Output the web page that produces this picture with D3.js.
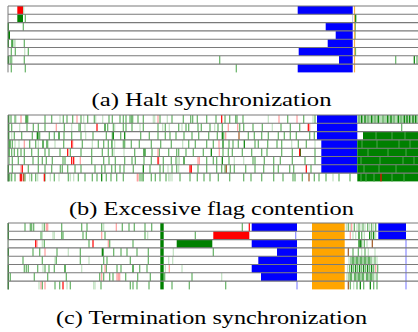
<!DOCTYPE html>
<html><head><meta charset="utf-8">
<script src="https://cdn.jsdelivr.net/npm/d3@7"></script>
<style>html,body{margin:0;padding:0;background:#fff;}svg{display:block;}</style>
</head><body><svg id="chart" width="418" height="332"></svg>
<script>
// ---- colours by mark kind ----
const kindColors = {D:"#008000", g:"#64b264", l:"#c0e1c0", r:"#ff0000", p:"#ff9c9c", b:"#a0561e",
  o:"#f7b24a", u:"#8c8cff", B:"#0000ff", G:"#008000", R:"#ff0000", O:"#ffa500", M:"#a9d6a9", v:"#c8c8f0", s:"#3f9f3f"};

// ---- captions ----
const captions = ["(a) Halt synchronization", "(b) Excessive flag contention", "(c) Termination synchronization"];
const threads = [0,1,2,3,4,5,6,7];

// ---- (a) Halt synchronization : time in ticks (0..410) ----
const haltBlocks = [
 [0,9.3,15,"R"],[0,15,16.3,"l"],[0,289.7,344.7,"B"],
 [1,9.3,15,"G"],[1,344,345,"v"],
 [2,317.7,344.7,"B"],
 [3,0,2,"G"],[3,327.7,344.7,"B"],
 [4,4,7.7,"l"],[4,319.7,344.7,"B"],
 [5,290.7,344.7,"B"],
 [6,1,4.7,"l"],[6,331,344.7,"B"],
 [7,289.7,344.7,"B"]];
const haltTicks = [
 {o:[346.5]},
 {g:[17.3],o:[346.5],D:[347.7]},
 {D:[0.3],g:[15.3,347.3],o:[346.5]},
 {D:[0.5],o:[346.5],g:[347]},
 {D:[0.3,4],g:[16.3],o:[346.5]},
 {g:[3.3,7.3,20.3,347.5],l:[16.7],o:[346.5]},
 {D:[0.3,406.3],g:[3,16.3,211.7,387.7,409],o:[346.5]},
 {g:[3.3,17.3,228.3],o:[346.5]}];

// ---- (b) Excessive flag contention ----
const contentionBlocks = [
 [0,309,349.3,"B"],[1,309,349.3,"B"],[2,309,349.3,"B"],
 [3,313.3,349.3,"B"],[4,313.3,349.3,"B"],[5,313.3,349.3,"B"],[6,313.3,349.3,"B"],
 [0,349.3,410,"M"],[2,355,410,"G"],
 [3,349.3,410,"G"],[4,349.3,410,"G"],[5,349.3,410,"G"],[6,349.3,410,"G"],[7,349.3,410,"G"]];
const contentionTicks = [
 {D:[0.7,19,353.7,357,363.7,370.3,379.7,383,390.3,396.3,399,401.7,405,407.7],
  g:[3,7,17.7,37,43.7,55.3,59,64.7,73,79.7,86.3,101,104.3,112,115.3,118,122,123.3,124.7,130,135.3,152,164,175.3,182.7,184.7,189.3,198.7,208,217,221.7,227.7,229,235,279.7,295.7,307,351,360,367,375,386,393],
  l:[8,20.3,52,75.7,87.7,94.7,145.3,146.7,159.3,260.3,305,355.5,373,388,403],
  r:[213.7], p:[13,69,150,271,289]},
 {D:[0.7,97],
  g:[3.7,19,25.3,30.3,37,56.3,71,72.3,99.7,105.3,115.3,118,124,135.3,150,157.3,170.7,178,180.7,190,193.3,202,210,214.3,231.7,235.7,245,254.3,273,282.3,291.7,393.7],
  l:[11.7,63.7,77,106.7,132,154.7,161.3,174,206.7,264.3],
  r:[89,300.3], p:[48.3,220.3,229.7,301.7]},
 {D:[0.7,29.3,51,105.3,116.7,214.3],
  g:[6.3,13.7,24.3,30.3,31.7,41.3,46.3,56,63.7,73,85,98.3,104.3,112.7,132.7,141.3,150,157.3,162,168,176,184,190.7,200.7,209.3,215.7,240.3,246.3,253.7,260.3,270.3,276.3,282.3,288.3,301.7,306.3],
  l:[3.7,77.7], p:[217.7], b:[231], s:[368,384,397]},
 {D:[1,35,215,236.3],
  g:[2.3,4.3,21.7,27.7,38.7,39.7,55.7,74.3,90.3,95.7,100.3,103.7,104,115.3,116.7,123.3,131.3,143.3,152.7,163.3,180.7,187.3,198.7,205.3,221,225,230.3,247,250.3,259.7,269,273.7,290.3,298.3],
  l:[7,11,30.3,47,84.3,106.7,174.7,283.7,307], r:[63.7], p:[16.3,64.7,211], s:[354,369,391,402]},
 {D:[1,136,203.3,292.3],
  g:[3.7,6.3,9.7,13,16.3,23.7,30.3,37,41,52,62.3,73,83.7,94.3,100.3,104.3,126.7,137.3,144,151.3,160.7,168.7,170.7,178,185.3,195.3,215,220.3,224.3,234.3,243.7,253.7,259,273.7,284.3,307],
  l:[106,116], r:[59.7,291.7], p:[150,211.3], s:[360,380,398]},
 {D:[176,214.3],
  g:[1,4.3,10.3,16.3,25,30.3,34.3,38.3,44.3,55,57,83.7,95.7,101,107.3,116.7,124,127.3,136,143.3,155.3,163.3,168,198.7,205.3,208.7,221,245,247,256.3,265.7,272.3,284.3,297,307],
  l:[170,171.3,226.3,235.7], r:[63.7,65.7,150], p:[72.3,150.7,190,191.3], s:[353,372,395,406]},
 {D:[0.3,135.3],
  g:[4.3,20.3,30.3,37,43.7,52.3,54.3,59.7,67,73,87,93.7,97,103.7,107.3,112,116,125.3,142,152,155.3,164,168.7,190,198.7,208.7,213.7,217,222.3,226.3,237.7,247,255.7,265.7,270.3,281.7,285.7,303],
  l:[160,170.7], r:[14.3,182,183.3,298.3], p:[13], b:[218.3], s:[356,371,388]},
 {D:[0.3,93.7],
  g:[1.7,3.7,7,17,23.7,27.7,37,46.3,60.3,70.3,77,84.3,89,98.3,103,108.7,115.3,132,134,135.3,143.3,147.3,152,158,172,182,189.3,196,202,210.3,221.7,235.7,243,253.7,265.7,275,285,287,294.3,306.3,311,318,331,342],
  l:[21.7,29.7,42.3,51,62.3,65.7,160.7,162,164,325], r:[12.3,13.7,36.3,373], p:[129.3,130], b:[15.7,301],
  s:[353,358,366,384,396]}];

// ---- (c) Termination synchronization ----
const termBlocks = threads.map(r => [r,152.3,155.7,"G"]).concat([
 [2,168.7,204.3,"G"],[1,205.3,241.3,"R"],
 [0,243.7,289,"B"],[2,243.7,289,"B"],[3,269,289,"B"],[4,250.3,289,"B"],[5,243.7,289,"B"],[6,253,289,"B"],
 [0,370.3,398,"B"],[1,370.3,398,"B"]]).concat(threads.map(r => [r,304,336.7,"O"]));
const termTicks = [
 {D:[0.3], g:[17,22.3,23.7,25.7,36.3,53.7,73.7,79,93.7,114.3,121,126.3,137,143.7,234.3,340.3,346.3,351,355,359.7,363.7,367.7],
  l:[34.3,95.7,338.3,342.3,349,353,357,361.7,365.7], r:[241.3], p:[38.3,39.7,108.3,343.7]},
 {D:[0.3,351,361.7,365.7], g:[33,53.7,55,75,78.3,97,137,187.3,353.7,363.7],
  l:[34.3,45,46.3,139.7,345,347.7,356.3,367.7], p:[93.7,342.3], u:[287.7]},
 {D:[351,352.3], g:[36.3,81,101.7,125,353.7,356.3], l:[0.3,34.3,359], r:[27.7,85], p:[29,100.3], b:[364.3], u:[398]},
 {D:[0.3,94.3,95], g:[25,31.7,49,72.3,105.7,113,119,129,140.3,205.3,345,350.3,357],
  l:[60.3,165.3,353.7,360.3,367], p:[37], b:[340.3], u:[398]},
 {D:[345,349,353,357,361], g:[0.3,15,34.3,48.3,72.3,95.7,99,122.3,140.3,343,347,351,355,359,363,367],
  l:[47,81,160.7,164.7,341,365,369], u:[398]},
 {D:[0.3,57,125,343.7,347.7,351.7,355.7,359.7,363.7],
  g:[16.3,18.3,20.3,29.7,37,41,46.3,93.7,98.3,109,113,131.7,139,341.7,345.7,349.7,353.7,357.7,361.7,365.7,369.7],
  l:[35,73.7,157.3,174,339.7], p:[97,161.3,367.7], u:[398]},
 {D:[0.3,343,347,351,355,359,363],
  g:[2.3,26.3,39.7,58.3,91.7,95.7,101.7,105,117.7,129.7,142.3,156.7,184,341,349,353,361,365,369],
  l:[213.7,339,345,357,367], p:[93.7,109,110.3,111.7], u:[398]},
 {D:[0.3,352.3,362.3], g:[34.3,47,51.7,62.3,93,122.3,125,129,141,164,181.3,217.7,342.3,349,355.7,365.7,369],
  l:[31,59,85.7,87,345.7], r:[55], p:[33,37], b:[340.3], u:[289,398]}];

// ---- layout ----
const W = 418;
const panels = [
 {top:6,   blocks:haltBlocks,       ticks:haltTicks,       caption:captions[0], base:106,   tl:240},
 {top:115, blocks:contentionBlocks, ticks:contentionTicks, caption:captions[1], base:215,   tl:285},
 {top:223, blocks:termBlocks,       ticks:termTicks,       caption:captions[2], base:323.5, tl:311}];
const rowH = 8.3;
const x = d3.scaleLinear().domain([0,410]).range([8,418]);
const svg = d3.select("#chart");
const tickOrder = ["l","M","g","s","p","b","o","u","D","r"];

panels.forEach(P => {
  const y = d3.scaleBand().domain(threads).range([P.top, P.top + rowH*threads.length]);
  const g = svg.append("g");
  g.selectAll("rect.blk").data(P.blocks).join("rect").attr("class","blk")
    .attr("x", d => x(d[1])).attr("width", d => x(d[2]) - x(d[1]))
    .attr("y", d => y(d[0])).attr("height", y.bandwidth())
    .attr("fill", d => kindColors[d[3]]);
  const flat = [];
  P.ticks.forEach((row, r) => tickOrder.forEach(k => (row[k]||[]).forEach(t => flat.push([r,t,k]))));
  g.selectAll("rect.tk").data(flat).join("rect").attr("class","tk")
    .attr("x", d => x(d[1]) - 0.6).attr("width", 1.2)
    .attr("y", d => y(d[0])).attr("height", y.bandwidth())
    .attr("fill", d => kindColors[d[2]]);
  g.selectAll("line.row").data(threads).join("line").attr("class","row")
    .attr("x1", x(0)).attr("x2", W).attr("y1", d => y(d)).attr("y2", d => y(d))
    .attr("stroke", "#7a7a7a").attr("stroke-width", 1.1);
  g.append("line").attr("x1", x(0)).attr("x2", x(0))
    .attr("y1", P.top).attr("y2", P.top + rowH*threads.length)
    .attr("stroke", "#7a7a7a").attr("stroke-width", 1);
  svg.append("text").attr("x", 211.5).attr("y", P.base).attr("text-anchor","middle")
    .attr("font-family","'Liberation Serif', 'Times New Roman', serif").attr("font-size", 19)
    .attr("textLength", P.tl).attr("lengthAdjust","spacingAndGlyphs")
    .attr("fill","#000").text(P.caption);
});
</script></body></html>
